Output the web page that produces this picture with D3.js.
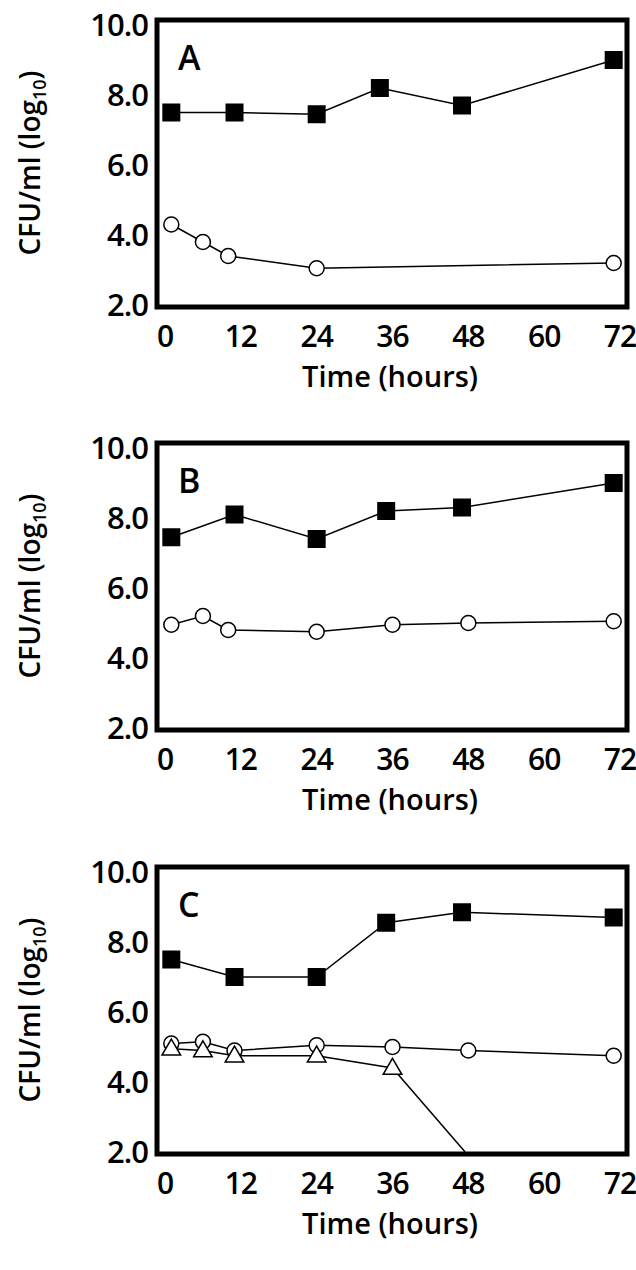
<html>
<head><meta charset="utf-8"><title></title>
<style>body{margin:0;background:#fff}</style></head>
<body>
<script src="https://d3js.org/d3.v7.min.js"></script>
<script>
// panel data: [hours, log10 CFU/ml]
var hours = [0, 12, 24, 36, 48, 60, 72];
var yTicks = [2, 4, 6, 8, 10];
var aSquares = [[1,7.5],[11,7.5],[24,7.45],[34,8.2],[47,7.7],[71,9.0]];
var aCircles = [[1,4.3],[6,3.8],[10,3.4],[24,3.05],[71,3.2]];
var bSquares = [[1,7.45],[11,8.1],[24,7.4],[35,8.2],[47,8.3],[71,9.0]];
var bCircles = [[1,4.95],[6,5.2],[10,4.8],[24,4.75],[36,4.95],[48,5.0],[71,5.05]];
var cSquares = [[1,7.5],[11,7.0],[24,7.0],[35,8.55],[47,8.85],[71,8.7]];
var cCircles = [[1,5.1],[6,5.15],[11,4.9],[24,5.05],[36,5.0],[48,4.9],[71,4.75]];
var cTriangles = [[1,4.95],[6,4.9],[11,4.75],[24,4.75],[36,4.4],[47.5,2.0]];

var panels = [
  {label:"A", top:20, series:[{d:aSquares,s:"sq"},{d:aCircles,s:"ci"}]},
  {label:"B", top:443, series:[{d:bSquares,s:"sq"},{d:bCircles,s:"ci"}]},
  {label:"C", top:867, series:[{d:cSquares,s:"sq"},{d:cCircles,s:"ci"},{d:cTriangles,s:"tr",lastHidden:true}]}
];

var svg = d3.select("body").append("svg").attr("width",636).attr("height",1270);
var font = "'Open Sans', sans-serif";

panels.forEach(function(p){
  var x = d3.scaleLinear().domain([0,72]).range([165,620]);
  var y = d3.scaleLinear().domain([2,10]).range([p.top+285, p.top+5]);
  var g = svg.append("g");
  g.append("rect").attr("x",157).attr("y",p.top).attr("width",470).attr("height",287)
    .attr("fill","none").attr("stroke","#000").attr("stroke-width",5);
  g.selectAll(".yt").data(yTicks).enter().append("text")
    .attr("x",148).attr("y",function(d){return y(d);}).attr("dy","0.36em")
    .attr("text-anchor","end").attr("font-family",font).attr("font-size",31).attr("font-weight",600)
    .attr("letter-spacing",-1).text(function(d){return d.toFixed(1);});
  g.selectAll(".xt").data(hours).enter().append("text")
    .attr("x",function(d){return x(d);}).attr("y",p.top+327)
    .attr("text-anchor","middle").attr("font-family",font).attr("font-size",30).attr("font-weight",600)
    .attr("letter-spacing",-1).text(function(d){return d;});
  g.append("text").attr("x",390).attr("y",p.top+367).attr("text-anchor","middle")
    .attr("font-family",font).attr("font-size",29).attr("font-weight",600).text("Time (hours)");
  var yl = g.append("text").attr("transform","translate(40,"+(p.top+143)+") rotate(-90)")
    .attr("text-anchor","middle").attr("font-family",font).attr("font-size",28).attr("font-weight",600);
  yl.append("tspan").text("CFU/ml (log");
  yl.append("tspan").attr("font-size",18).attr("dy",6).text("10");
  yl.append("tspan").attr("dy",-6).text(")");
  g.append("text").attr("x",178).attr("y",p.top+50).attr("font-family",font)
    .attr("font-size",34).attr("font-weight",600).text(p.label);

  var line = d3.line().x(function(d){return x(d[0]);}).y(function(d){return y(d[1]);});
  p.series.forEach(function(s){
    g.append("path").attr("d",line(s.d)).attr("fill","none").attr("stroke","#000").attr("stroke-width",1.5);
    var pts = s.lastHidden ? s.d.slice(0,-1) : s.d;
    var m = g.selectAll(null).data(pts).enter();
    if(s.s==="sq"){
      m.append("rect").attr("x",function(d){return x(d[0])-9;}).attr("y",function(d){return y(d[1])-9;})
        .attr("width",18).attr("height",18).attr("fill","#000");
    } else if(s.s==="ci"){
      m.append("circle").attr("cx",function(d){return x(d[0]);}).attr("cy",function(d){return y(d[1]);})
        .attr("r",7.5).attr("fill","#fff").attr("stroke","#000").attr("stroke-width",1.5);
    } else {
      m.append("path").attr("d",d3.symbol().type(d3.symbolTriangle).size(150))
        .attr("transform",function(d){return "translate("+x(d[0])+","+(y(d[1])+1)+")";})
        .attr("fill","#fff").attr("stroke","#000").attr("stroke-width",1.5);
    }
  });
});
</script>
</body>
</html>
